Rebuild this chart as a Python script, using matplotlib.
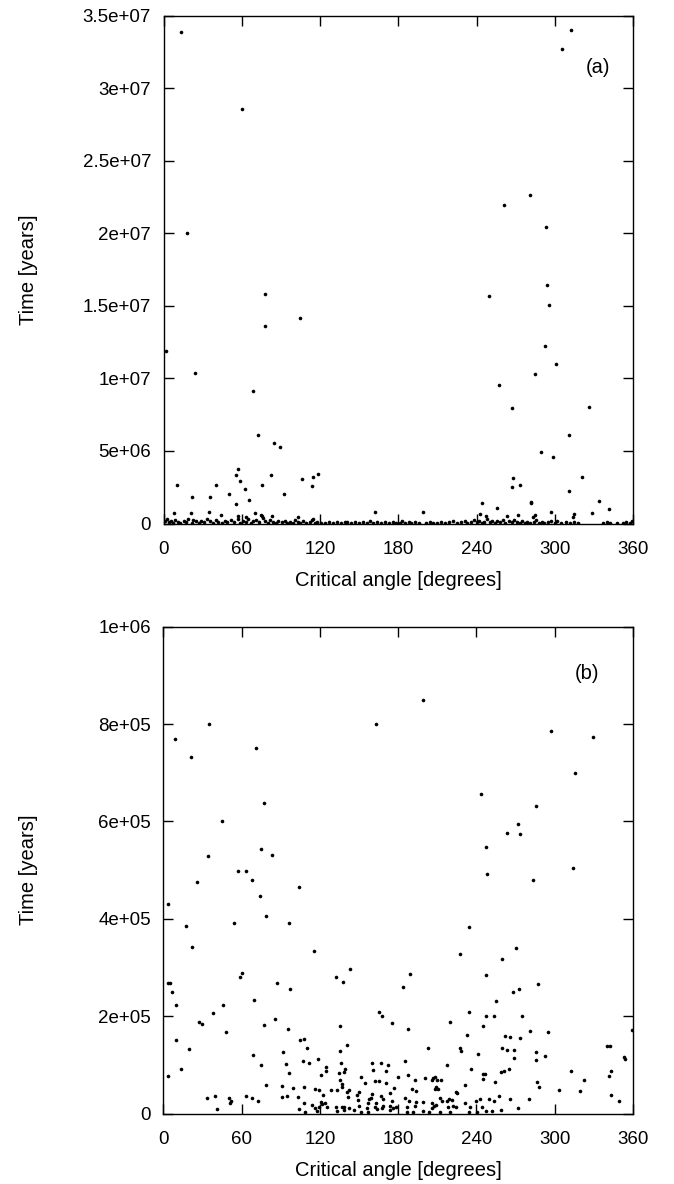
import matplotlib
matplotlib.use("Agg")
import matplotlib.pyplot as plt
from matplotlib.ticker import FixedLocator, FixedFormatter

plt.rcParams['font.family'] = ['Liberation Sans', 'DejaVu Sans']

# ---------------- Panel (a) data ----------------
a_angle_upper = [13.4, 60.4, 17.8, 312.8, 305.9, 280.8, 260.9, 293.3, 77.8, 77.8, 104.3, 1.7,
                 24.1, 68.6, 72.4, 84.4, 89.0, 10.3, 56.8, 55.6, 58.9, 40.2, 22.1, 35.9, 50.0,
                 55.3, 62.7, 65.3, 75.5, 82.1, 92.1, 106.4, 113.8, 114.3, 118.2, 162.3, 8, 21,
                 35, 44, 57, 63, 70, 75.0, 75.8, 83, 103, 115,
                 294.1, 249.7, 295.6, 292.6, 301.3, 284.9, 257.1, 267.6, 326.6, 311.3, 289.3,
                 298.5, 267.8, 267.3, 273.7, 321.2, 311.3, 334, 341.9, 244.1, 198.6, 256.1,
                 281.8, 281.8, 263.2, 271.9, 297, 328.9, 284.7, 283.4, 315.1, 313.8, 242.5, 247.3]
a_time_upper = [3.39e7, 2.857e7, 2.0e7, 3.40e7, 3.27e7, 2.264e7, 2.198e7, 2.047e7, 1.579e7, 1.362e7,
                1.417e7, 1.188e7, 1.036e7, 9.13e6, 6.09e6, 5.54e6, 5.29e6, 2.63e6, 3.73e6, 3.32e6,
                2.95e6, 2.63e6, 1.83e6, 1.83e6, 2.03e6, 1.36e6, 2.36e6, 1.64e6, 2.63e6, 3.36e6,
                2.01e6, 3.06e6, 2.58e6, 3.2e6, 3.39e6, 7.7e5, 7.4e5, 7.0e5, 7.7e5, 5.6e5, 5.0e5,
                4.7e5, 7.2e5, 6.0e5, 5.2e5, 5.0e5, 4.8e5, 3.4e5,
                1.643e7, 1.569e7, 1.507e7, 1.222e7, 1.1e7, 1.028e7, 9.54e6, 7.93e6, 8.0e6, 6.07e6,
                4.92e6, 4.6e6, 3.13e6, 2.51e6, 2.63e6, 3.2e6, 2.26e6, 1.55e6, 9.8e5, 1.39e6, 8.1e5,
                1.05e6, 1.49e6, 1.40e6, 5.4e5, 5.6e5, 7.7e5, 7.4e5, 6.0e5, 4.4e5, 6.7e5, 4.8e5,
                6.5e5, 5.0e5]

a_angle_strip = [1.5, 2.5, 4, 5.5, 7, 9, 11, 13, 15.5, 17, 19, 21.5, 23, 25, 27, 29, 31, 33.5, 36,
                 38, 40, 42, 45, 47, 49, 52, 54, 57.5, 59, 61, 63, 65, 67, 69, 71, 73, 76, 78, 80,
                 82, 84, 86, 88, 91, 93, 95, 97, 99, 101, 103, 105, 107, 109, 112, 114, 116, 118,
                 121, 124, 127, 130, 133, 136, 139, 141, 144, 147, 150, 153, 156, 158, 161, 164,
                 167, 170, 173, 176, 178,
                 181, 183, 185, 188, 190, 193, 196, 201, 204, 207, 210, 213, 216, 219, 222, 225,
                 228, 231, 233, 236, 238, 240, 242, 244, 246, 248, 250, 252, 254, 256, 258, 260,
                 262, 265, 267, 269, 271, 273, 275, 277, 279, 281, 284, 286, 288, 290, 292, 295,
                 297, 300, 302, 305, 309, 312, 315, 318, 337, 340, 342, 348, 352, 355, 358, 359.5]
a_time_strip = [1.5e5, 3.0e5, 0.8e5, 1.8e5, 0.5e5, 2.2e5, 1.0e5, 0.4e5, 2.0e5, 1.2e5, 3.0e5, 0.6e5,
                2.5e5, 1.4e5, 0.3e5, 1.8e5, 0.9e5, 3.3e5, 1.5e5, 0.5e5, 2.1e5, 1.0e5, 0.3e5, 1.6e5,
                0.7e5, 2.5e5, 1.2e5, 2.8e5, 0.6e5, 1.7e5, 0.9e5, 3.0e5, 0.4e5, 1.5e5, 2.4e5, 0.8e5,
                3.5e5, 1.9e5, 0.5e5, 2.7e5, 1.1e5, 0.3e5, 1.7e5, 0.7e5, 2.0e5, 0.4e5, 1.3e5, 0.6e5,
                2.2e5, 0.9e5, 0.3e5, 1.6e5, 0.5e5, 1.0e5, 2.5e5, 0.4e5, 1.2e5, 0.6e5, 0.3e5, 0.9e5,
                0.5e5, 1.1e5, 0.3e5, 0.7e5, 1.2e5, 0.4e5, 0.9e5, 0.3e5, 1.0e5, 0.5e5, 1.6e5, 0.3e5,
                0.8e5, 0.4e5, 1.1e5, 0.5e5, 0.9e5, 0.3e5,
                0.6e5, 1.5e5, 0.4e5, 1.0e5, 0.3e5, 0.7e5, 0.4e5, 0.5e5, 1.0e5, 0.3e5, 0.6e5, 1.1e5,
                0.4e5, 0.8e5, 1.4e5, 0.5e5, 1.0e5, 2.0e5, 0.6e5, 1.3e5, 2.5e5, 0.8e5, 1.8e5, 0.4e5,
                1.2e5, 2.8e5, 0.7e5, 1.9e5, 0.5e5, 1.4e5, 0.9e5, 2.3e5, 0.4e5, 1.6e5, 0.7e5, 2.6e5,
                1.1e5, 0.5e5, 1.8e5, 0.6e5, 1.2e5, 0.3e5, 0.9e5, 2.4e5, 0.5e5, 1.3e5, 0.4e5, 0.8e5,
                2.0e5, 0.5e5, 1.8e5, 0.3e5, 0.7e5, 0.4e5, 0.9e5, 0.3e5, 0.4e5, 0.9e5, 0.3e5, 0.5e5,
                0.3e5, 0.8e5, 0.4e5, 1.5e5]

a_yticks = [0, 5e6, 1e7, 1.5e7, 2e7, 2.5e7, 3e7, 3.5e7]
a_yticklabels = ["0", "5e+06", "1e+07", "1.5e+07", "2e+07", "2.5e+07", "3e+07", "3.5e+07"]

# ---------------- Panel (b) data ----------------
b_angle_upper = [35.2, 162.9, 8.7, 21.1, 70.7, 76.9, 44.9, 74.8, 83.2, 34.2,
                 198.9, 297.2, 329.7, 315.9, 243.1, 285.3, 271.5, 263.5, 273.0, 247.2,
                 56.9, 63.3, 25.5, 67.7, 103.9, 74.3, 3.8, 78.4, 17.5, 54.1, 96.0, 21.7, 115.4,
                 142.8, 132.0, 137.9, 60.5, 58.9, 3.3, 5.1, 6.8, 87.3, 97.0, 9.9, 45.9, 69.4,
                 37.8, 27.1, 29.3, 85.8, 77.4, 95.3, 48.0, 165.2, 167.5, 175.2, 135.1, 9.7,
                 104.9, 108.0, 19.6, 110.0, 140.9, 91.6, 135.6, 68.9, 118.5, 94.2, 107.0, 111.6,
                 136.1, 13.5, 74.6, 96.5, 124.4, 124.4, 120.8, 134.6, 138.4, 139.2, 3.8]
b_time_upper = [8.0e5, 8.0e5, 7.70e5, 7.33e5, 7.50e5, 6.38e5, 6.01e5, 5.43e5, 5.31e5, 5.29e5,
                8.50e5, 7.85e5, 7.74e5, 6.99e5, 6.57e5, 6.31e5, 5.95e5, 5.77e5, 5.75e5, 5.47e5,
                4.99e5, 4.99e5, 4.76e5, 4.80e5, 4.66e5, 4.46e5, 4.30e5, 4.05e5, 3.85e5, 3.91e5,
                3.91e5, 3.43e5, 3.34e5, 2.97e5, 2.81e5, 2.71e5, 2.89e5, 2.80e5, 2.68e5, 2.68e5,
                2.49e5, 2.68e5, 2.55e5, 2.23e5, 2.23e5, 2.33e5, 2.06e5, 1.87e5, 1.84e5, 1.95e5,
                1.82e5, 1.73e5, 1.67e5, 2.08e5, 2.01e5, 1.86e5, 1.79e5, 1.50e5, 1.52e5, 1.53e5,
                1.32e5, 1.35e5, 1.41e5, 1.26e5, 1.28e5, 1.20e5, 1.12e5, 1.02e5, 1.07e5, 1.04e5,
                1.04e5, 9.1e4, 9.9e4, 8.3e4, 9.5e4, 8.7e4, 8.0e4, 8.4e4, 8.5e4, 9.2e4, 7.7e4]

b_angle_left = [159.8, 160.6, 166.5, 172.3, 170.3, 180.0, 151.4, 154.2, 162.4, 165.0, 170.3,
                78.9, 90.6, 99.5, 107.7, 116.4, 119.2, 122.5, 128.4, 132.8, 135.3, 136.6, 137.1,
                140.7, 142.0, 141.2, 148.1, 150.1, 148.9, 150.1, 157.5, 159.3, 157.0, 160.1,
                163.1, 166.5, 168.0, 168.5, 173.6, 174.9, 176.9, 173.6, 176.2, 33.2, 39.8, 50.0,
                51.6, 50.8, 63.5, 67.9, 72.3, 40.8, 90.9, 94.7, 103.1, 104.1, 108.0, 108.5, 113.6,
                116.4, 117.9, 119.5, 120.5, 121.8, 123.8, 125.1, 132.0, 133.3, 136.6, 138.4,
                138.6, 142.4, 146.3, 151.4, 155.8, 157.0, 162.1, 163.9, 167.2, 173.6, 178.0]
b_time_left = [1.03e5, 8.9e4, 1.03e5, 9.9e4, 8.7e4, 7.5e4, 7.4e4, 6.3e4, 6.6e4, 6.6e4, 6.2e4,
               5.8e4, 5.6e4, 5.3e4, 5.4e4, 5.0e4, 4.8e4, 3.8e4, 4.8e4, 4.8e4, 6.9e4, 6.0e4, 5.5e4,
               4.4e4, 4.8e4, 3.4e4, 3.9e4, 4.4e4, 2.8e4, 1.5e4, 2.9e4, 3.1e4, 2.1e4, 4.1e4,
               2.1e4, 3.6e4, 2.9e4, 1.5e4, 4.3e4, 2.6e4, 5.2e4, 1.5e4, 1.1e4, 3.2e4, 3.5e4, 3.1e4,
               2.6e4, 2.1e4, 3.6e4, 3.2e4, 2.6e4, 8.6e3, 3.4e4, 3.6e4, 3.4e4, 8.6e3, 2.1e4, 3.7e3,
               1.7e4, 1.07e4, 5.7e3, 1.4e4, 2.4e4, 1.9e4, 2.1e4, 1.4e4, 1.27e4, 5.7e3, 1.4e4,
               1.4e4, 7.0e3, 1.07e4, 6.6e3, 3.7e3, 1.1e4, 3.7e3, 1.4e4, 8.6e3, 1.07e4, 7.0e3, 1.27e4]

b_angle_right = [248.2, 283.2, 314.1, 234.4, 270.2, 227.3, 259.5, 189.2, 247.0, 183.4, 287.3,
                 267.7, 272.3, 254.6, 234.4, 247.2, 253.1, 275.0, 219.4, 245.1, 187.4, 232.6,
                 281.4, 295.2, 262.0, 265.8, 273.0, 359.6, 202.5, 227.1, 228.1, 259.5, 263.1,
                 268.9, 240.8, 268.9, 285.8, 285.5, 292.9, 339.9, 342.2, 353.2, 354.2, 185.1,
                 217.1, 235.7, 244.9, 246.4, 258.9, 261.2, 265.1, 244.7, 187.2, 192.6, 200.2,
                 205.6, 206.8, 207.9, 209.7, 212.5, 207.9, 208.9, 210.2, 190.7, 193.6, 224.2,
                 224.8, 231.3, 253.9, 286.5, 287.8, 303.4, 312.3, 322.5, 319.0, 341.5, 342.8,
                 342.8, 349.4, 185.4, 188.2, 193.3, 198.7, 192.8, 186.4, 205.6, 207.6, 208.9,
                 205.6, 212.2, 213.5, 217.1, 218.9, 220.9, 218.3, 221.7, 224.0, 231.1, 234.9,
                 239.3, 242.8, 249.3, 253.1, 256.9, 265.8, 280.6, 244.1, 247.4, 251.8, 258.7,
                 271.5, 186.4, 191.5, 199.2, 203.5, 211.9, 219.6, 234.2, 240.1]
b_time_right = [4.91e5, 4.80e5, 5.04e5, 3.83e5, 3.40e5, 3.27e5, 3.18e5, 2.86e5, 2.84e5, 2.59e5,
                2.66e5, 2.49e5, 2.55e5, 2.32e5, 2.08e5, 2.01e5, 2.01e5, 2.01e5, 1.87e5, 1.79e5,
                1.73e5, 1.62e5, 1.69e5, 1.67e5, 1.60e5, 1.58e5, 1.55e5, 1.71e5, 1.34e5, 1.35e5,
                1.28e5, 1.34e5, 1.31e5, 1.30e5, 1.22e5, 1.14e5, 1.27e5, 1.09e5, 1.19e5, 1.38e5,
                1.38e5, 1.16e5, 1.12e5, 1.07e5, 9.9e4, 9.2e4, 8.2e4, 8.2e4, 8.5e4, 8.7e4, 9.2e4,
                7.0e4, 7.9e4, 6.8e4, 7.3e4, 6.9e4, 7.3e4, 7.5e4, 6.9e4, 6.9e4, 5.1e4, 5.4e4,
                5.0e4, 5.0e4, 4.6e4, 4.5e4, 4.3e4, 5.8e4, 6.5e4, 6.5e4, 5.5e4, 4.9e4, 8.7e4,
                6.8e4, 4.7e4, 7.8e4, 8.7e4, 3.7e4, 2.5e4, 3.2e4, 2.6e4, 2.4e4, 2.3e4, 1.5e4,
                1.4e4, 2.1e4, 1.5e4, 1.8e4, 1.2e4, 3.1e4, 2.6e4, 2.6e4, 2.9e4, 2.8e4, 1.4e4,
                1.5e4, 1.4e4, 2.2e4, 1.3e4, 2.6e4, 3.0e4, 2.9e4, 2.6e4, 3.6e4, 3.0e4, 2.9e4,
                1.3e4, 5.0e3, 4.5e3, 7.0e3, 1.1e4, 3.0e3, 2.5e3, 5.0e3, 3.5e3, 4.0e3, 4.0e3,
                3.0e3, 4.0e3]

b_yticks = [0, 2e5, 4e5, 6e5, 8e5, 1e6]
b_yticklabels = ["0", "2e+05", "4e+05", "6e+05", "8e+05", "1e+06"]

x_ticks = [0, 60, 120, 180, 240, 300, 360]
x_ticklabels = ["0", "60", "120", "180", "240", "300", "360"]

# ---------------- Figure ----------------
W, H = 674, 1184
fig = plt.figure(figsize=(W / 100, H / 100), dpi=100)

def px_axes(left, top, right, bottom):
    return fig.add_axes([left / W, 1 - bottom / H, (right - left) / W, (bottom - top) / H])

ax_a = px_axes(163.5, 15.7, 633, 523.5)
ax_b = px_axes(163.4, 626.7, 633, 1113.5)

def style(ax, yticks, ylabels, ymax, tag, tag_xy, top_px, bottom_px):
    ax.set_xlim(0, 360)
    ax.set_ylim(0, ymax)
    ax.xaxis.set_major_locator(FixedLocator(x_ticks))
    ax.xaxis.set_major_formatter(FixedFormatter(x_ticklabels))
    ax.yaxis.set_major_locator(FixedLocator(yticks))
    ax.yaxis.set_major_formatter(FixedFormatter(ylabels))
    ax.tick_params(direction='in', length=7.5, width=1.0, top=True, right=True,
                   labelsize=13.5)
    ax.tick_params(axis='x', pad=12.5)
    ax.tick_params(axis='y', pad=9)
    for s in ax.spines.values():
        s.set_linewidth(1.0)
    hpx = bottom_px - top_px
    ax.set_xlabel("Critical angle [degrees]", fontsize=14.5)
    ax.xaxis.set_label_coords(0.5, -48.0 / hpx)
    ax.set_ylabel("Time [years]", fontsize=14.5)
    ax.yaxis.set_label_coords(-(163.5 - 38) / 469.5, 0.5)
    ax.text(tag_xy[0], tag_xy[1], tag, transform=ax.transAxes, fontsize=14.5,
            ha='center', va='center')

ms = 2.6
ax_a.plot(a_angle_upper, a_time_upper, 'o', color='black', markersize=ms, markeredgewidth=0)
ax_a.plot(a_angle_strip, a_time_strip, 'o', color='black', markersize=ms, markeredgewidth=0)
style(ax_a, a_yticks, a_yticklabels, 3.5e7, "(a)", (0.925, 0.898), 15.7, 523.5)

ax_b.plot(b_angle_upper, b_time_upper, 'o', color='black', markersize=ms, markeredgewidth=0)
ax_b.plot(b_angle_left, b_time_left, 'o', color='black', markersize=ms, markeredgewidth=0)
ax_b.plot(b_angle_right, b_time_right, 'o', color='black', markersize=ms, markeredgewidth=0)
style(ax_b, b_yticks, b_yticklabels, 1e6, "(b)", (0.902, 0.903), 626.7, 1113.5)

fig.savefig("out.png", dpi=100)
